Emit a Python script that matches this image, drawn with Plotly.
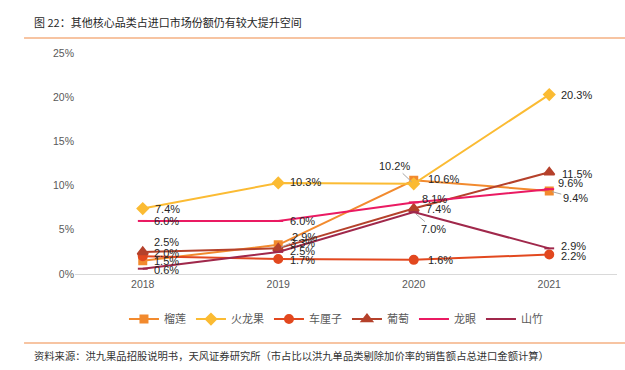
import plotly.graph_objects as go

years = ["2018", "2019", "2020", "2021"]
liulian = [1.5, 3.3, 10.6, 9.4]      # 榴莲
huolongguo = [7.4, 10.3, 10.2, 20.3] # 火龙果
chelizi = [2.0, 1.7, 1.6, 2.2]       # 车厘子
putao = [2.5, 2.9, 7.4, 11.5]        # 葡萄
longyan = [6.0, 6.0, 8.1, 9.6]       # 龙眼
shanzhu = [0.6, 2.5, 7.0, 2.9]       # 山竹
y_ticks = [0, 5, 10, 15, 20, 25]
y_tick_labels = ["0%", "5%", "10%", "15%", "20%", "25%"]

# style: (name, values, color, symbol, size, label offsets per point)
# offsets: (xshift, yshift) for plain labels, or ("arrow", ax, ay) for leader-line labels
series = [
    ("榴莲", liulian, "#F28A2E", "square", 7,
     [(9, 0), (10, 2), (12, 1), ("arrow", 26, 7)]),
    ("火龙果", huolongguo, "#FBBB33", "diamond", 8,
     [(10, 0), (10, 1), ("arrow", -19, -18), (10, 0)]),
    ("车厘子", chelizi, "#E2481F", "circle", 8,
     [(9, 3), (10, -1), (12, 0), (10, -1)]),
    ("葡萄", putao, "#B5412B", "triangle-up", 9,
     [(9, 10), ("arrow", 26, -11), (10, 0), (11, -2)]),
    ("龙眼", longyan, "#EA1A62", "line-ew-open", 7,
     [(9, 0), (10, 0), (6, 3), (7, 6)]),
    ("山竹", shanzhu, "#A0284B", "line-ew-open", 7,
     [(9, -1), (10, 1), ("arrow", 20, 17), (10, 2)]),
]

fig = go.Figure()
annotations = []
label_font = dict(family="Liberation Sans, Arial", size=11, color="#262626")
for name, vals, color, sym, size, offs in series:
    fig.add_trace(go.Scatter(
        x=years, y=vals, name=name, mode="lines+markers",
        line=dict(color=color, width=2),
        marker=dict(symbol=sym, size=size, color=color,
                    line=dict(color=color, width=2)),
        cliponaxis=False,
    ))
    for i, (yv, off) in enumerate(zip(vals, offs)):
        txt = f"{yv:.1f}%"
        if off[0] == "arrow":
            annotations.append(dict(x=i, y=yv, xref="x", yref="y", text=txt,
                                    showarrow=True, ax=off[1], ay=off[2], arrowhead=0,
                                    arrowwidth=1, arrowcolor="#A6A6A6", standoff=3,
                                    font=label_font))
        else:
            annotations.append(dict(x=i, y=yv, xref="x", yref="y", text=txt,
                                    showarrow=False, xanchor="left", yanchor="middle",
                                    xshift=off[0], yshift=off[1], font=label_font))

annotations += [
    dict(text="图 22：其他核心品类占进口市场份额仍有较大提升空间", xref="paper", yref="paper",
         x=-0.0793, y=1.140, xanchor="left", yanchor="middle", showarrow=False,
         font=dict(size=11, color="#262626", family="Noto Sans CJK SC")),
    dict(text="资料来源：洪九果品招股说明书，天风证券研究所（市占比以洪九单品类剔除加价率的销售额占总进口金额计算）",
         xref="paper", yref="paper", x=-0.0793, y=-0.371, xanchor="left", yanchor="middle",
         showarrow=False, font=dict(size=10.3, color="#333333", family="Noto Sans CJK SC")),
]

fig.update_layout(
    width=625, height=370,
    margin=dict(l=75, r=8, t=53, b=96),
    paper_bgcolor="white", plot_bgcolor="white",
    font=dict(family="Noto Sans CJK SC, Liberation Sans", size=11, color="#595959"),
    showlegend=True,
    legend=dict(orientation="h", x=0.4815, xanchor="center", y=-0.204, yanchor="middle",
                font=dict(size=11, color="#595959"), itemwidth=30,
                traceorder="normal"),
    xaxis=dict(type="category", range=[-0.5, 3.5], showgrid=False, showline=True,
               linecolor="#d9d9d9", linewidth=1, ticks="",
               tickfont=dict(family="Liberation Sans, Arial", size=10.5, color="#595959")),
    yaxis=dict(range=[0, 25], tickvals=y_ticks, ticktext=y_tick_labels, showgrid=False,
               showline=False, zeroline=False, ticks="",
               tickfont=dict(family="Liberation Sans, Arial", size=10.5, color="#595959")),
    shapes=[
        dict(type="line", xref="paper", yref="paper", x0=-0.094, x1=1.02, y0=1.068, y1=1.068,
             line=dict(color="#F4B183", width=1.5)),
        dict(type="line", xref="paper", yref="paper", x0=-0.094, x1=1.02, y0=-0.312, y1=-0.312,
             line=dict(color="#F4B183", width=1.5)),
    ],
    annotations=annotations,
)

fig.write_html("out.html", config={"displayModeBar": False},
               post_script="document.body.style.margin='0';document.body.style.overflow='hidden';")
